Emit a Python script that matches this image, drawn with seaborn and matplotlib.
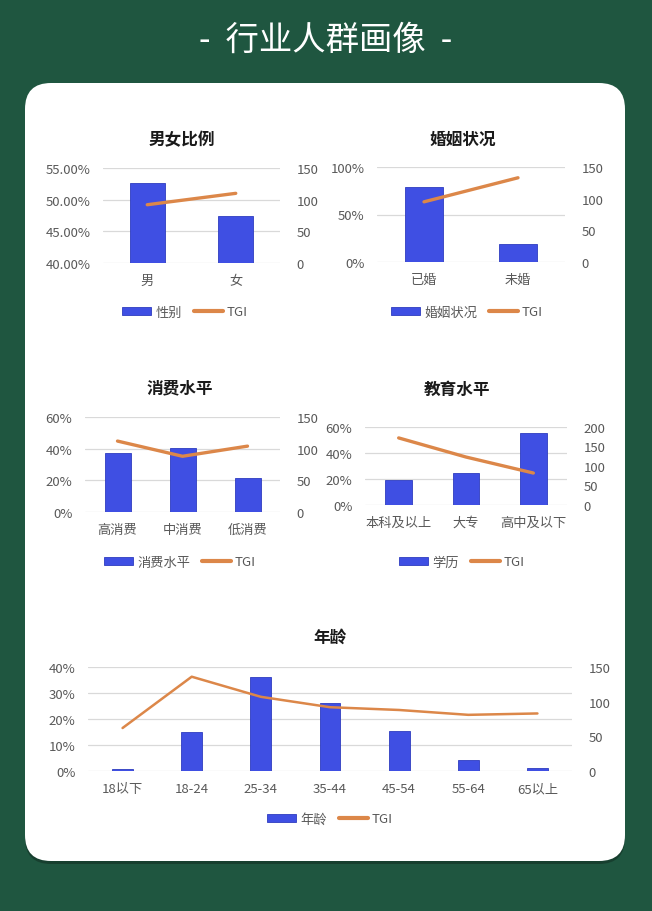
import numpy as np
import matplotlib
matplotlib.use("Agg")
import matplotlib.pyplot as plt
import seaborn as sns
from matplotlib.patches import FancyBboxPatch, Patch
from matplotlib.lines import Line2D
from matplotlib.ticker import FuncFormatter

# data
gender_cats = ["男", "女"]
gender_share = [52.6, 47.4]
gender_tgi = [92, 110]

marriage_cats = ["已婚", "未婚"]
marriage_share = [79, 19]
marriage_tgi = [95, 133]

spend_cats = ["高消费", "中消费", "低消费"]
spend_share = [37.3, 40.4, 21.5]
spend_tgi = [112, 88, 104]

edu_cats = ["本科及以上", "大专", "高中及以下"]
edu_share = [19.2, 24.6, 55.4]
edu_tgi = [172, 123, 82]

age_cats = ["18以下", "18-24", "25-34", "35-44", "45-54", "55-64", "65以上"]
age_share = [0.9, 15.0, 36.2, 26.0, 15.3, 4.3, 1.1]
age_tgi = [62, 136, 107, 92, 88, 81, 83]

sns.set_theme(style="white")
plt.rcParams["font.family"] = ["Noto Sans CJK SC", "DejaVu Sans"]

W, H = 652, 912
BG = "#1f5640"
BLUE = "#3f4fe3"
BLUE_EDGE = "#2e3cc0"
ORANGE = "#dc8749"
GRID = "#d9d9d9"
TXT = "#595959"

fig = plt.figure(figsize=(W / 100, H / 100), dpi=100, facecolor=BG)

# background card
bg = fig.add_axes([0, 0, 1, 1])
bg.set_xlim(0, W)
bg.set_ylim(H, 0)
bg.axis("off")
bg.add_patch(FancyBboxPatch((25, 87), 600, 778, boxstyle="round,pad=0,rounding_size=26",
                            fc="#173f2f", ec="none"))
bg.add_patch(FancyBboxPatch((25, 84), 600, 778, boxstyle="round,pad=0,rounding_size=26",
                            fc="white", ec="none"))

fig.text(0.5, 1 - 40 / H, "-  行业人群画像  -", color="white", fontsize=24,
         ha="center", va="center")


def pct_fmt(decimals):
    return FuncFormatter(lambda v, p: f"{v:.{decimals}f}%")


def panel(box, cats, share, tgi, lticks, ldec, rticks, title, tpos, legend_label,
          legend_pos, width=0.4, lw=2.4):
    l, t, r, b = box
    ax = fig.add_axes([l / W, 1 - b / H, (r - l) / W, (b - t) / H])
    n = len(cats)
    sns.barplot(x=cats, y=share, width=width, color=BLUE, edgecolor=BLUE_EDGE,
                linewidth=0.6, saturation=1, ax=ax)
    ax.set_ylim(lticks[0], lticks[-1])
    ax.set_yticks(lticks)
    ax.yaxis.set_major_formatter(pct_fmt(ldec))
    ax.yaxis.grid(True, color=GRID, lw=0.9)
    ax.set_axisbelow(True)

    ax2 = ax.twinx()
    sns.lineplot(x=np.arange(n), y=tgi, color=ORANGE, lw=lw, ax=ax2)
    ax2.set_ylim(rticks[0], rticks[-1])
    ax2.set_yticks(rticks)
    ax2.grid(False)
    ax.set_xlim(-0.5, n - 0.5)

    for a in (ax, ax2):
        for s in a.spines.values():
            s.set_visible(False)
        a.tick_params(length=0, labelsize=9.5, labelcolor=TXT)
        a.set_xlabel("")
        a.set_ylabel("")
    ax.tick_params(axis="y", pad=9)
    ax2.tick_params(axis="y", pad=12)
    ax.tick_params(axis="x", pad=8)

    fig.text(tpos[0] / W, 1 - tpos[1] / H, title, ha="center", va="center",
             fontsize=12, fontweight="bold", color="#1a1a1a")
    handles = [Patch(fc=BLUE, ec=BLUE_EDGE, lw=0.6), Line2D([], [], color=ORANGE, lw=3)]
    fig.legend(handles, [legend_label, "TGI"], loc="center",
               bbox_to_anchor=(legend_pos[0] / W, 1 - legend_pos[1] / H), ncol=2,
               frameon=False, fontsize=9.5, labelcolor=TXT, handlelength=2.2,
               handleheight=0.6, handletextpad=0.3, columnspacing=0.9)
    return ax


panel((103, 169, 280, 264), gender_cats, gender_share, gender_tgi,
      [40, 45, 50, 55], 2, [0, 50, 100, 150], "男女比例", (182, 140), "性别", (185, 313))
panel((377, 168, 565, 263), marriage_cats, marriage_share, marriage_tgi,
      [0, 50, 100], 0, [0, 50, 100, 150], "婚姻状况", (463, 140), "婚姻状况", (467, 313))
panel((85, 418, 280, 513), spend_cats, spend_share, spend_tgi,
      [0, 20, 40, 60], 0, [0, 50, 100, 150], "消费水平", (180, 388), "消费水平", (180, 563))
panel((365, 428, 567, 506), edu_cats, edu_share, edu_tgi,
      [0, 20, 40, 60], 0, [0, 50, 100, 150, 200], "教育水平", (457, 390), "学历", (462, 563))
panel((88, 668, 572, 772), age_cats, age_share, age_tgi,
      [0, 10, 20, 30, 40], 0, [0, 50, 100, 150], "年龄", (330, 638), "年龄", (330, 820),
      width=0.3, lw=1.8)

fig.savefig("out.png", dpi=100, facecolor=BG)
